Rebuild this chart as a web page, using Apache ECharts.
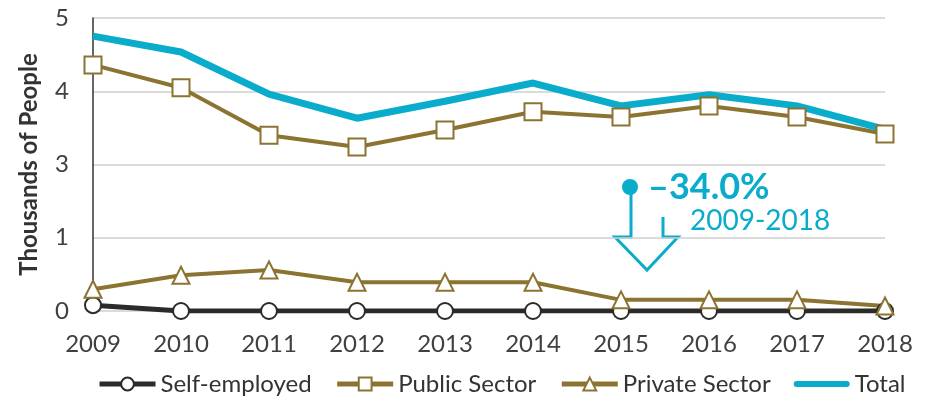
<!DOCTYPE html>
<html>
<head>
<meta charset="utf-8">
<script src="https://cdn.jsdelivr.net/npm/echarts@6/dist/echarts.min.js"></script>
<style>
  html, body { margin: 0; padding: 0; background: #fff; }
  #chart { width: 928px; height: 403px; }
</style>
</head>
<body>
<div id="chart"></div>
<script>
const years = ['2009', '2010', '2011', '2012', '2013', '2014', '2015', '2016', '2017', '2018'];
const selfEmployed = [0.1, 0, 0, 0, 0, 0, 0, 0, 0, 0];
const publicSector = [4.2, 3.81, 3.0, 2.8, 3.09, 3.4, 3.31, 3.5, 3.31, 3.02];
const privateSector = [0.37, 0.61, 0.7, 0.49, 0.49, 0.49, 0.19, 0.19, 0.19, 0.085];
const total = [4.69, 4.42, 3.7, 3.29, 3.58, 3.89, 3.5, 3.69, 3.5, 3.1];

const FONT = 'Lato, "Open Sans", sans-serif';
const OLIVE = '#8b7431';
const CYAN = '#0aaccb';
const DARK = '#2b2b2b';

const chart = echarts.init(document.getElementById('chart'));

const markerSeries = (name, data, color, symbol, size, width) => ({
  name, type: 'line', data,
  symbol, symbolSize: size, showAllSymbol: true,
  lineStyle: { color, width },
  itemStyle: { color: '#fff', borderColor: color, borderWidth: 2 },
  emphasis: { disabled: true },
});

chart.setOption({
  animation: false,
  textStyle: { fontFamily: FONT },
  grid: { left: 93, right: 43, top: 18, bottom: 92, containLabel: false },
  legend: {
    bottom: 2, left: 92,
    itemWidth: 56, itemHeight: 16, itemGap: 23,
    lineStyle: { width: 5 },
    textStyle: { fontSize: 24, color: '#333', fontFamily: FONT },
    data: [
      'Self-employed', 'Public Sector', 'Private Sector',
      { name: 'Total', icon: 'path://M3,0 L53,0 A3,3 0 0 1 53,6 L3,6 A3,3 0 0 1 3,0 Z' },
    ],
  },
  xAxis: {
    type: 'category', data: years, boundaryGap: false,
    axisLine: { show: false },
    axisTick: { show: false },
    axisLabel: { fontSize: 24, color: '#404040', margin: 21 },
  },
  yAxis: {
    type: 'value', min: 0, max: 5, interval: 1.25,
    name: 'Thousands of People', nameLocation: 'middle', nameGap: 52,
    nameTextStyle: { fontSize: 24, fontWeight: 'bold', color: '#333' },
    axisLine: { show: true, lineStyle: { color: '#333', width: 1.5 } },
    axisTick: { show: false },
    axisLabel: { fontSize: 24, color: '#404040', margin: 24, formatter: v => String(Math.round(v)) },
    splitLine: { lineStyle: { color: '#cfcfcf', width: 1.5 } },
  },
  series: [
    markerSeries('Self-employed', selfEmployed, DARK, 'circle', 16, 5),
    markerSeries('Public Sector', publicSector, OLIVE, 'rect', 17, 4),
    markerSeries('Private Sector', privateSector, OLIVE, 'triangle', 17, 4),
    {
      name: 'Total', type: 'line', data: total,
      symbol: 'none', lineStyle: { color: CYAN, width: 7 },
      itemStyle: { color: CYAN },
      emphasis: { disabled: true },
    },
  ],
  graphic: [
    { type: 'circle', shape: { cx: 630, cy: 187, r: 8 }, style: { fill: CYAN } },
    {
      type: 'polyline',
      shape: { points: [[631, 187], [631, 237], [615, 237], [647, 270], [678, 237], [663, 237], [663, 217]] },
      style: { stroke: CYAN, lineWidth: 3, fill: null, lineJoin: 'miter' },
    },
    { type: 'text', x: 648, y: 187, style: { text: '\u201334.0%', fill: CYAN, font: 'bold 36px ' + FONT, verticalAlign: 'middle' } },
    { type: 'text', x: 690, y: 221, style: { text: '2009-2018', fill: CYAN, font: '28px ' + FONT, verticalAlign: 'middle' } },
  ],
});
</script>
</body>
</html>
